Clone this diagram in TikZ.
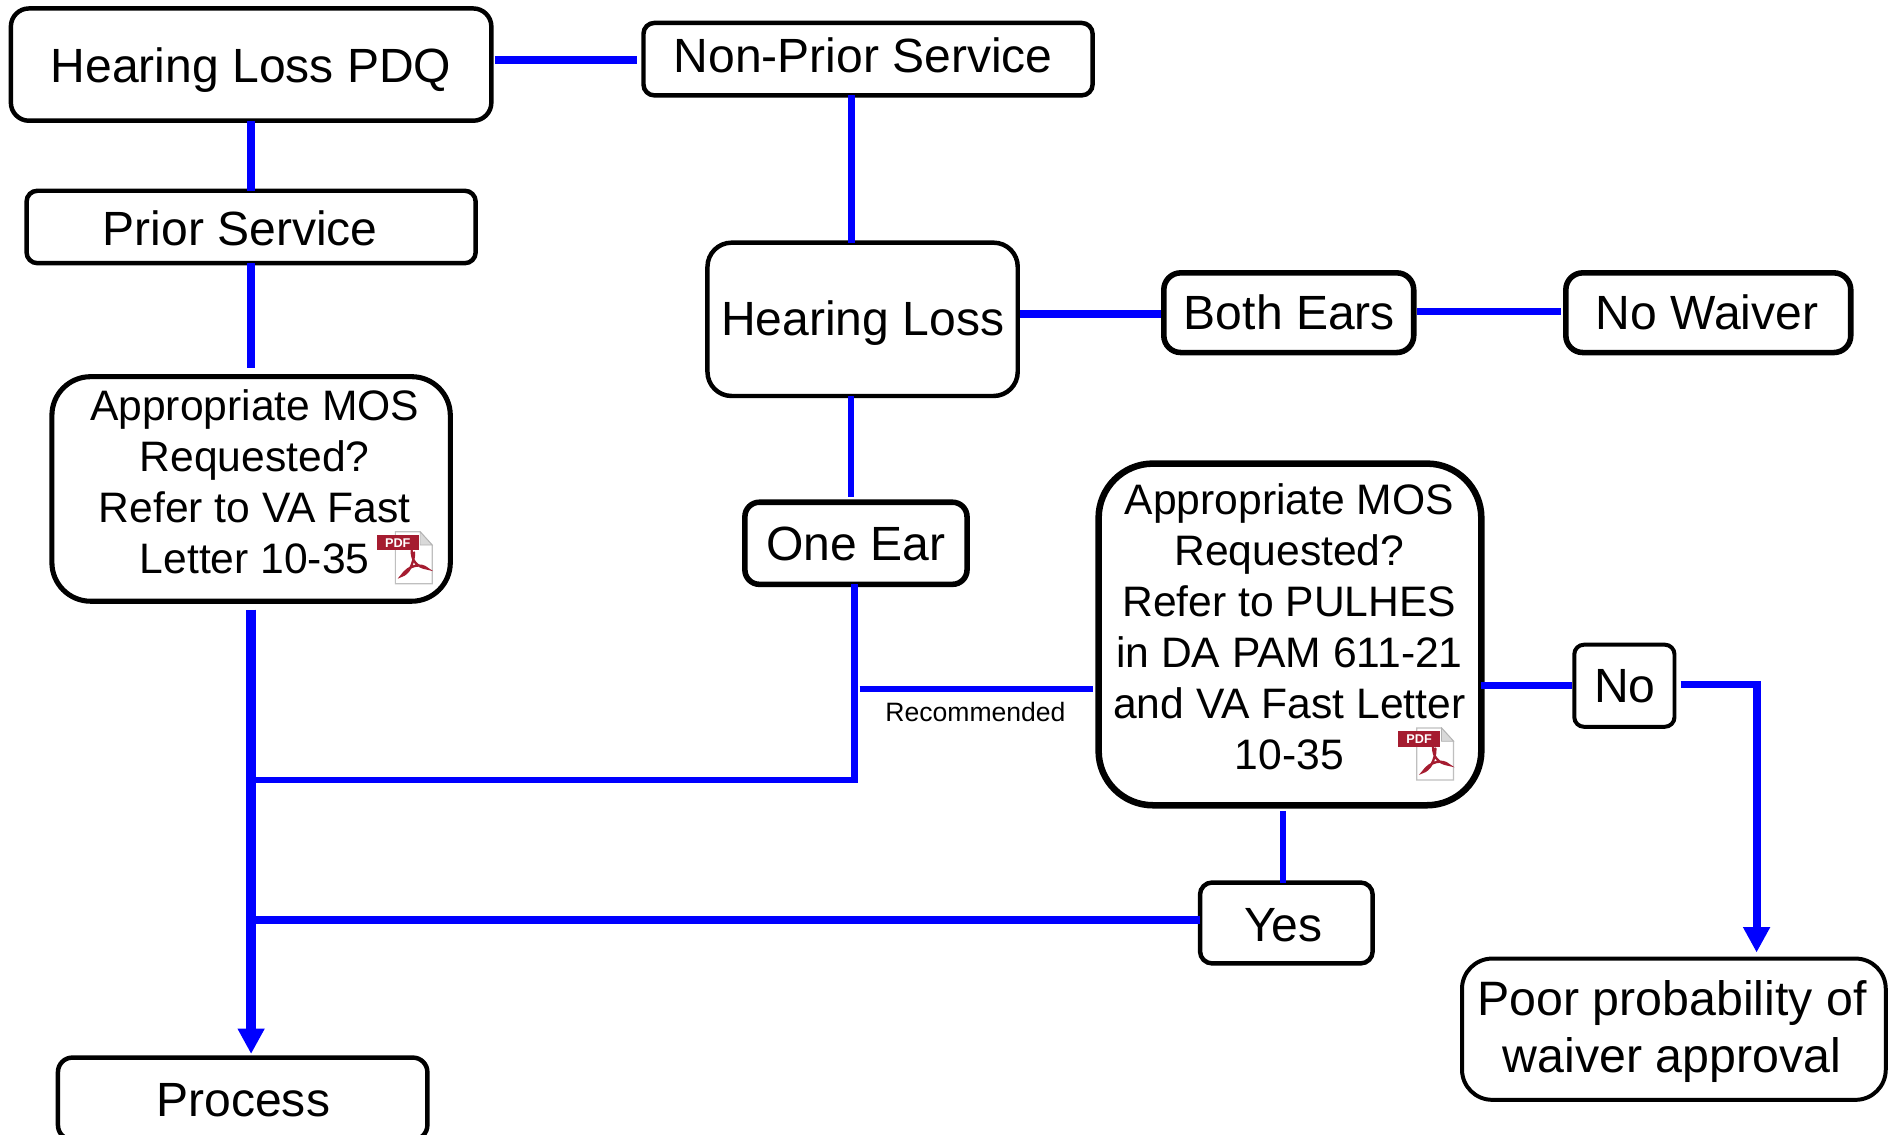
\documentclass[tikz,border=0pt]{standalone}
\usepackage{fontspec}
\setmainfont{Liberation Sans}
\usetikzlibrary{arrows.meta}
\newcommand\lbl[3]{\raisebox{#2pt}[0pt][0pt]{\makebox[0pt]{\kern#1pt\kern#1pt #3}}}
\newcommand\mlines[3]{\raisebox{#2pt}[0pt][0pt]{\makebox[0pt]{\kern#1pt\kern#1pt \begin{tabular}[t]{@{}c@{}}#3\end{tabular}}}}
\definecolor{conn}{RGB}{0,0,255}
\definecolor{pdfred}{RGB}{165,28,48}
\tikzset{
  bx/.style={draw=black,fill=white,rectangle,inner sep=0pt,outer sep=0pt,text=black,line width=3.7pt,font=\fontsize{39.8}{47}\selectfont},
  mos/.style={font=\fontsize{35.3}{42.3}\selectfont},
  link/.style={draw=conn,line width=6pt},
  arr/.style={-{Triangle[width=21pt,length=21pt]}},
  recm/.style={inner sep=0pt,font=\fontsize{22}{26}\selectfont,text=black},
  pics/pdficon/.style={code={
    \fill[white,draw=black!25,line width=1pt] (15.5,0) -- (36,0) -- (46,11) -- (46,43) -- (15.5,43) -- cycle;
    \fill[black!15,draw=black!30,line width=.6pt] (36,0) -- (36,11) -- (46,11) -- cycle;
    \fill[pdfred] (0,2.7) rectangle (35,15.4);
    \node[inner sep=0pt,text=white,font=\bfseries\fontsize{10.5}{12}\selectfont] (t) at (17.5,9) {PDF};
    \draw[pdfred,line width=1.9pt,line cap=round] (29,15.5) .. controls (29,24) and (33,29) .. (42,30.5)
      .. controls (37,26) and (27,27) .. (20.5,36.5) .. controls (26,35) and (31,27) .. (31,17);
  }}
}
\begin{document}
\begin{tikzpicture}[x=1pt,y=-1pt]
\useasboundingbox (0,0) rectangle (1568,940);

% boxes
\node[bx,minimum width=398pt,minimum height=93pt,rounded corners=15pt] (hlp) at (208,53.5) {\lbl{0}{-14.5}{Hearing Loss PDQ}};
\node[bx,minimum width=372pt,minimum height=60pt,rounded corners=9pt] (np) at (719,49) {\lbl{-4}{-11}{Non-Prior Service}};
\node[bx,minimum width=372pt,minimum height=60pt,rounded corners=9pt] (ps) at (208,188) {\lbl{-9}{-15}{Prior Service}};
\node[bx,mos,line width=4.2pt,minimum width=330pt,minimum height=186pt,rounded corners=32pt] (m1) at (208,405) {\mlines{3}{57}{Appropriate MOS\\Requested?\\Refer to VA Fast\\Letter 10-35}};
\node[bx,minimum width=257pt,minimum height=127pt,rounded corners=20pt] (hl) at (714.5,264.5) {\lbl{0}{-13.5}{Hearing Loss}};
\node[bx,line width=4.6pt,minimum width=207pt,minimum height=66pt,rounded corners=14pt] (be) at (1067.5,259) {\lbl{0.5}{-14}{Both Ears}};
\node[bx,line width=4.6pt,minimum width=236pt,minimum height=66pt,rounded corners=14pt] (nw) at (1415,259) {\lbl{-1}{-14}{No Waiver}};
\node[bx,line width=4.6pt,minimum width=184pt,minimum height=68pt,rounded corners=12pt] (oe) at (709,450) {\lbl{0}{-14}{One Ear}};
\node[bx,mos,line width=5.4pt,minimum width=317pt,minimum height=283pt,rounded corners=45pt] (m2) at (1068.5,525.5) {\mlines{-0.5}{99.5}{Appropriate MOS\\Requested?\\Refer to PULHES\\in DA PAM 611-21\\and VA Fast Letter\\10-35}};
\node[bx,line width=3.3pt,minimum width=83pt,minimum height=68pt,rounded corners=8pt] (no) at (1345.5,568) {\lbl{0.5}{-14}{No}};
\node[bx,minimum width=143pt,minimum height=67pt,rounded corners=10pt] (ys) at (1065.5,764.5) {\lbl{-2.5}{-15}{Yes}};
\node[bx,line width=3.3pt,font=\fontsize{40}{47}\selectfont,minimum width=351pt,minimum height=117pt,rounded corners=25pt] (pp) at (1386.5,852.5) {\mlines{-1.5}{11.5}{Poor probability of\\waiver approval}};
\node[bx,minimum width=306pt,minimum height=68pt,rounded corners=12pt] (pr) at (201,910) {\lbl{0.5}{-14.5}{Process}};

% connector corners
\coordinate (j1) at (208,646);
\coordinate (j2) at (208,762);
\coordinate (oc) at (708,646);
\coordinate (rc) at (708,571);
\coordinate (pc) at (1455,567);

% connectors
\draw[link,line width=6.6pt,shorten <=3pt,shorten >=4pt] (hlp.east |- np.west) ++(0,1) -- ++(125,0);
\draw[link,line width=6.6pt] (hlp.south) -- (ps.north);
\draw[link,line width=6.6pt,shorten >=7pt] (ps.south) -- (m1.north);
\draw[link,line width=8pt,arr,shorten <=7pt,shorten >=3pt] (m1.south) -- (m1.south |- pr.north);
\draw[link] ([xshift=-14pt]np.south) -- ([xshift=-9.5pt]hl.north);
\draw[link,shorten <=2pt,shorten >=2pt] ([yshift=-1pt]hl.east |- be.west) -- ([yshift=-1pt]be.west);
\draw[link,shorten <=3pt,shorten >=4pt] ([yshift=1pt]be.east) -- ([yshift=1pt]nw.west);
\draw[link,line width=5.4pt,shorten >=4pt] ([xshift=-9.5pt]hl.south) -- ([xshift=-4pt]oe.north);
\draw[link,line width=5.4pt] (oe.south -| oc) -- (oc) -- (j1);
\draw[link,line width=5pt,shorten <=4pt,shorten >=5pt] (rc) -- (rc -| m2.west) node[recm,midway,xshift=-1pt,yshift=-19pt] (rec) {Recommended};
\draw[link] (m2.east) ++(0,42.5) -- ++(75,0);
\draw[link,line width=6.5pt,arr,shorten <=5pt,shorten >=5pt] (no.east |- pc) -- (pc) -- (pc |- pp.north);
\draw[link,line width=5pt,shorten <=5pt] ([xshift=-5.5pt]m2.south) -- ([xshift=-2.5pt]ys.north);
\draw[link,line width=6.5pt] (j2 -| ys.west) -- (j2);

% PDF icons
\pic (ic1) at (312,440.5) {pdficon};
\pic (ic2) at (1158,603) {pdficon};
\end{tikzpicture}
\end{document}
